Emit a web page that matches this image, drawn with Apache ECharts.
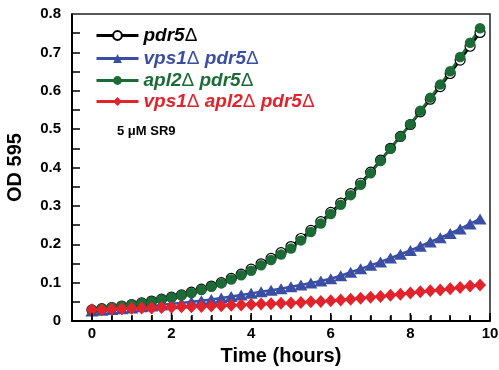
<!DOCTYPE html>
<html>
<head>
<meta charset="utf-8">
<script src="https://cdn.jsdelivr.net/npm/echarts@6/dist/echarts.min.js"></script>
<style>
    html, body { margin: 0; padding: 0; background: #fff; }
    #chart { width: 499px; height: 370px; }
</style>
</head>
<body>
<div id="chart"></div>
<script>
    // time points (hours), one reading every 15 min
    var hours = [0, 0.25, 0.5, 0.75, 1, 1.25, 1.5, 1.75, 2, 2.25, 2.5, 2.75, 3, 3.25, 3.5, 3.75,
        4, 4.25, 4.5, 4.75, 5, 5.25, 5.5, 5.75, 6, 6.25, 6.5, 6.75, 7, 7.25, 7.5, 7.75,
        8, 8.25, 8.5, 8.75, 9, 9.25, 9.5, 9.75];

    var pdr5 = [0.029, 0.032, 0.035, 0.039, 0.043, 0.047, 0.052, 0.057, 0.062, 0.068, 0.075, 0.083, 0.091, 0.100, 0.111, 0.122,
        0.135, 0.149, 0.163, 0.178, 0.194, 0.215, 0.236, 0.259, 0.283, 0.307, 0.332, 0.359, 0.388, 0.419, 0.450, 0.481,
        0.512, 0.545, 0.578, 0.611, 0.645, 0.680, 0.716, 0.752];
    var vps1pdr5 = [0.026, 0.028, 0.030, 0.032, 0.034, 0.037, 0.039, 0.042, 0.045, 0.047, 0.050, 0.053, 0.056, 0.060, 0.064, 0.068,
        0.072, 0.076, 0.080, 0.084, 0.089, 0.094, 0.099, 0.104, 0.110, 0.118, 0.127, 0.136, 0.145, 0.154, 0.164, 0.174,
        0.184, 0.195, 0.206, 0.217, 0.228, 0.240, 0.253, 0.266];
    var apl2pdr5 = [0.029, 0.032, 0.035, 0.039, 0.043, 0.046, 0.051, 0.056, 0.061, 0.067, 0.073, 0.081, 0.089, 0.098, 0.108, 0.119,
        0.131, 0.145, 0.159, 0.173, 0.189, 0.210, 0.232, 0.254, 0.279, 0.303, 0.328, 0.355, 0.385, 0.417, 0.449, 0.481,
        0.513, 0.548, 0.582, 0.616, 0.651, 0.688, 0.725, 0.763];
    var vps1apl2pdr5 = [0.029, 0.029, 0.031, 0.032, 0.033, 0.034, 0.034, 0.035, 0.036, 0.037, 0.037, 0.038, 0.039, 0.040, 0.041, 0.042,
        0.043, 0.044, 0.045, 0.046, 0.047, 0.048, 0.050, 0.051, 0.053, 0.055, 0.057, 0.059, 0.062, 0.064, 0.067, 0.070,
        0.073, 0.076, 0.079, 0.081, 0.084, 0.087, 0.091, 0.094];

    var xLabels = [0, 2, 4, 6, 8, 10];
    var xTicks = [0, 0.5, 1, 1.5, 2, 2.5, 3, 3.5, 4, 4.5, 5, 5.5, 6, 6.5, 7, 7.5, 8, 8.5, 9, 9.5, 10];
    var yLabels = [0, 0.1, 0.2, 0.3, 0.4, 0.5, 0.6, 0.7, 0.8];
    var yTicks = [0.05, 0.1, 0.15, 0.2, 0.25, 0.3, 0.35, 0.4, 0.45, 0.5, 0.55, 0.6, 0.65, 0.7, 0.75];

    var font = "'Liberation Sans', Arial, sans-serif";

    function pairs(arr) {
        return hours.map(function (h, i) { return [h, arr[i]]; });
    }

    function legendFor(name, color, top) {
        return {
            data: [name],
            left: 95,
            top: top,
            padding: 0,
            itemWidth: 42,
            itemHeight: 11,
            selectedMode: false,
            lineStyle: { width: 3 },
            formatter: function (n) {
                var parts = n.split('Δ');
                return parts.map(function (p) { return p ? '{i|' + p + '}' : ''; }).join('{d|Δ}');
            },
            textStyle: {
                color: color,
                rich: {
                    i: { color: color, fontFamily: font, fontSize: 19, fontWeight: 'bold', fontStyle: 'italic', lineHeight: 20 },
                    d: { color: color, fontFamily: font, fontSize: 19, fontWeight: 'normal', fontStyle: 'normal', lineHeight: 20 }
                }
            }
        };
    }

    var chart = echarts.init(document.getElementById('chart'));
    chart.setOption({
        animation: false,
        grid: {
            left: 72, right: 9, top: 14, bottom: 49,
            outerBoundsMode: 'none',
            containLabel: false
        },
        legend: [
            legendFor('pdr5Δ', '#000', 26),
            legendFor('vps1Δ pdr5Δ', '#3a4ea3', 49),
            legendFor('apl2Δ pdr5Δ', '#1c6b37', 71),
            legendFor('vps1Δ apl2Δ pdr5Δ', '#e3232c', 92)
        ],
        xAxis: {
            type: 'value',
            position: 'bottom',
            min: -0.5,
            max: 10,
            interval: 0.5,
            name: 'Time (hours)',
            nameLocation: 'middle',
            nameGap: 25,
            nameTextStyle: { fontFamily: font, fontSize: 20, fontWeight: 'bold', color: '#000' },
            splitLine: { show: false },
            axisLine: { show: true, onZero: false, lineStyle: { color: '#000', width: 2 } },
            axisTick: { show: true, inside: true, length: 6, lineStyle: { color: '#000', width: 1.5 } },
            axisLabel: {
                show: true, interval: 0, margin: 5,
                fontFamily: font, fontSize: 15, fontWeight: 'bold', color: '#000',
                formatter: function (v) { return xLabels.indexOf(v) >= 0 ? String(v) : ''; }
            }
        },
        yAxis: {
            type: 'value',
            position: 'left',
            min: 0,
            max: 0.8,
            name: 'OD 595',
            nameLocation: 'middle',
            nameGap: 47,
            nameTextStyle: { fontFamily: font, fontSize: 20, fontWeight: 'bold', color: '#000' },
            splitLine: { show: false },
            axisLine: { show: true, onZero: false, lineStyle: { color: '#000', width: 2 } },
            axisTick: { show: true, inside: true, length: 8, customValues: yTicks, lineStyle: { color: '#000', width: 1.5 } },
            axisLabel: {
                show: true, customValues: yLabels,
                margin: 11, fontFamily: font, fontSize: 15, fontWeight: 'bold', color: '#000',
                formatter: function (v) { return v === 0 ? '0' : v.toFixed(1); }
            }
        },
        series: [{
            name: 'pdr5Δ',
            type: 'line',
            data: pairs(pdr5),
            symbol: 'circle',
            symbolSize: 10,
            showAllSymbol: true,
            lineStyle: { color: '#000', width: 2.5 },
            itemStyle: { color: '#fff', borderColor: '#000', borderWidth: 1.2 }
        }, {
            name: 'vps1Δ pdr5Δ',
            type: 'line',
            data: pairs(vps1pdr5),
            symbol: 'triangle',
            symbolSize: [13, 11],
            showAllSymbol: true,
            lineStyle: { color: '#3a4ea3', width: 2.5 },
            itemStyle: { color: '#3a4ea3' }
        }, {
            name: 'apl2Δ pdr5Δ',
            type: 'line',
            data: pairs(apl2pdr5),
            symbol: 'circle',
            symbolSize: 10.5,
            showAllSymbol: true,
            lineStyle: { color: '#1c6b37', width: 2.5 },
            itemStyle: { color: '#1c6b37' }
        }, {
            name: 'vps1Δ apl2Δ pdr5Δ',
            type: 'line',
            data: pairs(vps1apl2pdr5),
            symbol: 'diamond',
            symbolSize: [12, 13],
            showAllSymbol: true,
            lineStyle: { color: '#e3232c', width: 2.5 },
            itemStyle: { color: '#e3232c' }
        }]
    });

    // frame on top and right plus the time-axis ticks, placed through the chart's own scales
    var tl = chart.convertToPixel({ gridIndex: 0 }, [-0.5, 0.8]);
    var br = chart.convertToPixel({ gridIndex: 0 }, [10, 0]);
    var extras = [{
        type: 'polyline',
        silent: true,
        z: 100,
        shape: { points: [[tl[0], tl[1]], [br[0], tl[1]], [br[0], br[1]]] },
        style: { stroke: '#222', lineWidth: 1.5, fill: null }
    }, {
        type: 'text',
        left: 117,
        top: 125,
        style: { text: '5 μM SR9', font: 'bold 13px ' + font, fill: '#000' }
    }];
    xTicks.forEach(function (t) {
        var p = chart.convertToPixel({ gridIndex: 0 }, [t, 0]);
        var len = xLabels.indexOf(t) >= 0 ? 8 : 5;
        extras.push({
            type: 'line',
            silent: true,
            z: 100,
            shape: { x1: p[0], y1: p[1], x2: p[0], y2: p[1] - len },
            style: { stroke: '#000', lineWidth: 1.5 }
        });
    });
    chart.setOption({ graphic: extras });
</script>
</body>
</html>
